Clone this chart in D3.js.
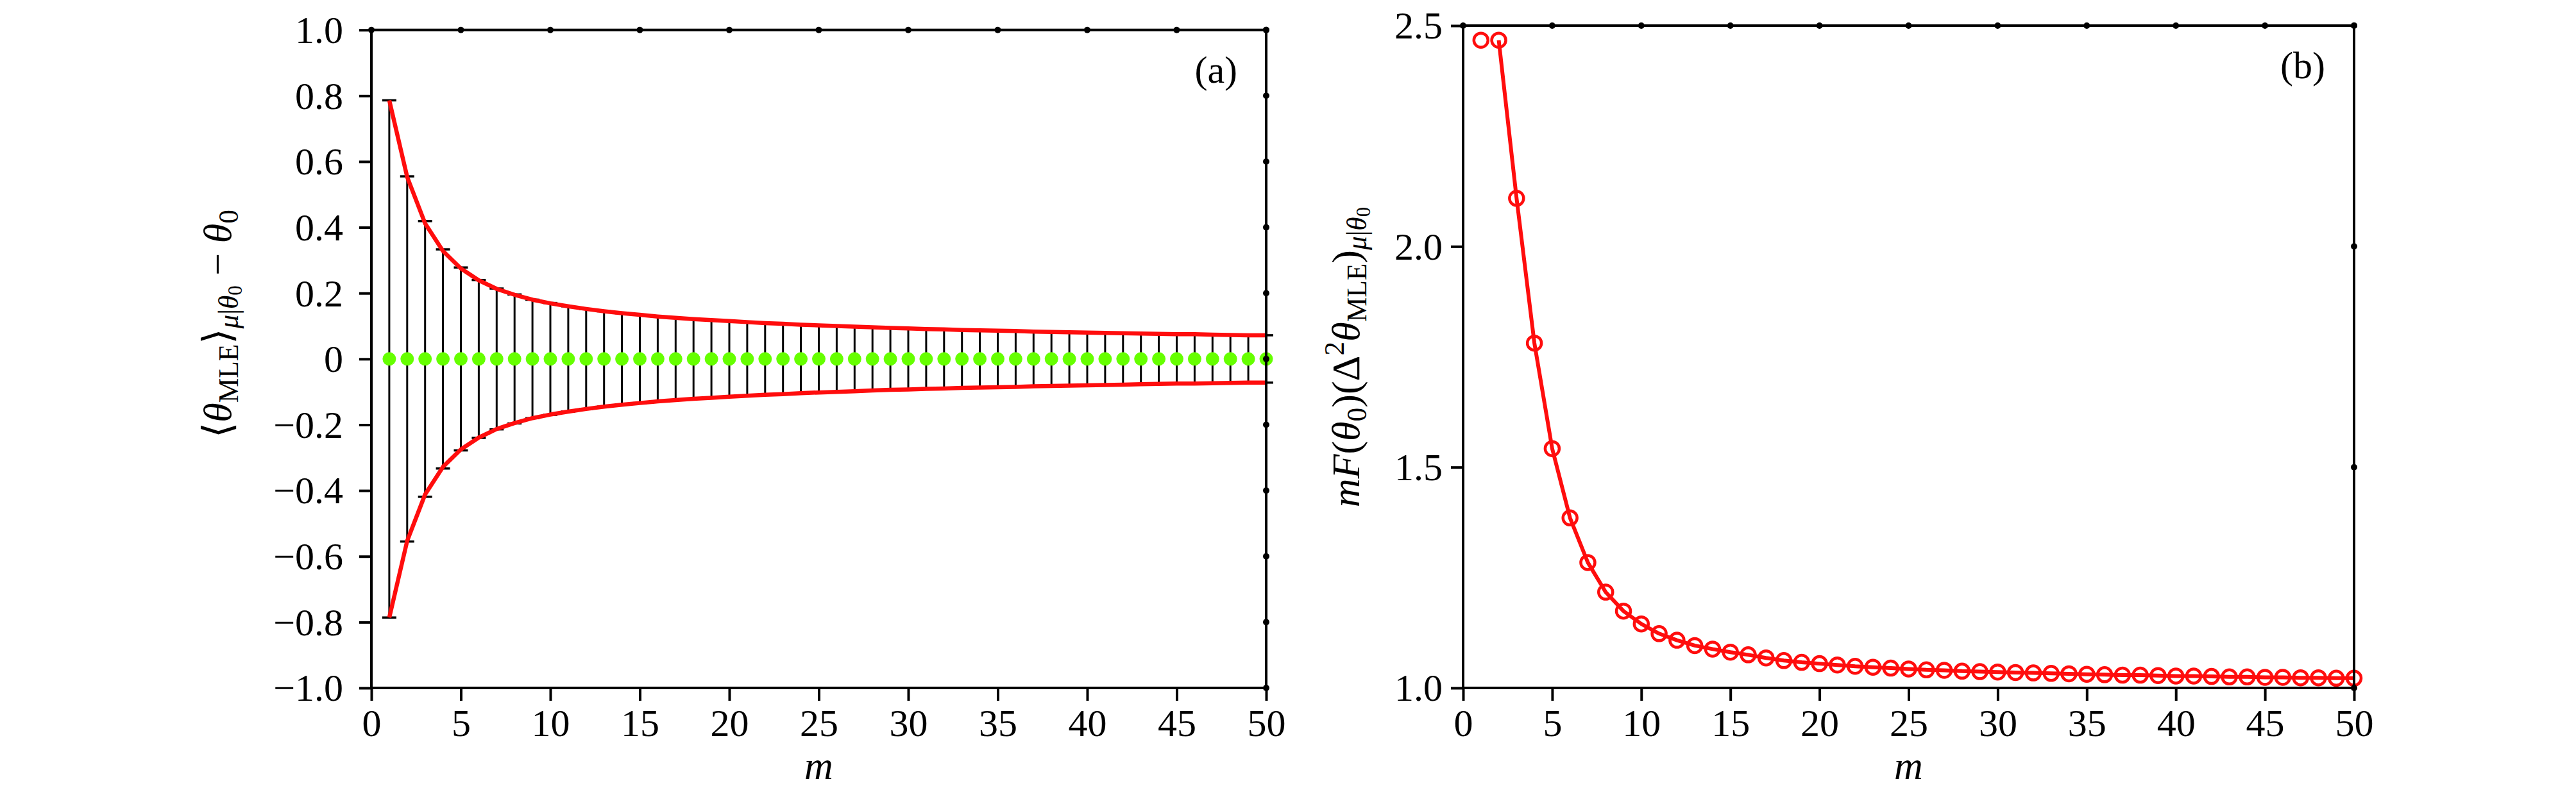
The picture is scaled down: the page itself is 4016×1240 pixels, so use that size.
<!DOCTYPE html>
<html>
<head>
<meta charset="utf-8">
<script src="https://cdn.jsdelivr.net/npm/d3@7"></script>
<style>
  body { margin: 0; background: #fff; }
  svg text { font-family: "Liberation Serif", "DejaVu Serif", serif; }
</style>
</head>
<body>
<div id="chart"></div>
<script>
// number of measurements m
var mValues = [1,2,3,4,5,6,7,8,9,10,11,12,13,14,15,16,17,18,19,20,21,22,23,24,25,
               26,27,28,29,30,31,32,33,34,35,36,37,38,39,40,41,42,43,44,45,46,47,48,49,50];

// (a) mean bias of the MLE (green dots) and the error bar half widths
var biasA = [0,0,0,0,0,0,0,0,0,0,0,0,0,0,0,0,0,0,0,0,0,0,0,0,0,
             0,0,0,0,0,0,0,0,0,0,0,0,0,0,0,0,0,0,0,0,0,0,0,0,0];
var errA = [0.786,0.555,0.419,0.333,0.278,0.240,0.214,0.196,0.180,0.170,
            0.160,0.152,0.145,0.139,0.134,0.129,0.125,0.121,0.118,0.115,
            0.112,0.109,0.107,0.104,0.102,0.100,0.098,0.096,0.094,0.093,
            0.091,0.090,0.088,0.087,0.086,0.085,0.083,0.082,0.081,0.080,
            0.079,0.078,0.077,0.076,0.075,0.075,0.074,0.073,0.072,0.072];
// (a) red envelope curve
var curveA = [0.786,0.553,0.412,0.328,0.275,0.239,0.213,0.195,0.180,0.169,
              0.160,0.152,0.145,0.139,0.134,0.129,0.125,0.121,0.118,0.115,
              0.112,0.109,0.107,0.104,0.102,0.100,0.098,0.096,0.094,0.093,
              0.091,0.090,0.088,0.087,0.086,0.085,0.083,0.082,0.081,0.080,
              0.079,0.078,0.077,0.076,0.075,0.075,0.074,0.073,0.072,0.072];

// (b) normalised variance, circles (the line starts at m = 2)
var varB = [2.467,2.467,2.109,1.781,1.542,1.385,1.284,1.217,1.174,1.145,
            1.123,1.108,1.096,1.088,1.081,1.075,1.068,1.062,1.058,1.055,
            1.052,1.049,1.047,1.045,1.043,1.041,1.040,1.038,1.037,1.036,
            1.035,1.034,1.033,1.032,1.031,1.030,1.029,1.029,1.028,1.027,
            1.027,1.026,1.025,1.025,1.024,1.024,1.023,1.023,1.022,1.022];

// ticks
var xTicks = [0,5,10,15,20,25,30,35,40,45,50];
var aYTicks = [1.0,0.8,0.6,0.4,0.2,0,-0.2,-0.4,-0.6,-0.8,-1.0];
var aYTickLabels = ["1.0","0.8","0.6","0.4","0.2","0","\u22120.2","\u22120.4","\u22120.6","\u22120.8","\u22121.0"];
var bYTicks = [1.0,1.5,2.0,2.5];
var bYTickLabels = ["1.0","1.5","2.0","2.5"];

var W = 4016, H = 1240,
    fontSize = 60,
    red = "#ff0d0d", green = "#66ff00";

var svg = d3.select("#chart").append("svg")
    .attr("width", W)
    .attr("height", H);

// scales
var xA = d3.scaleLinear().domain([0, 50]).range([579, 1974]);
var yA = d3.scaleLinear().domain([-1, 1]).range([1073, 46.7]);
var xB = d3.scaleLinear().domain([0, 50]).range([2281, 3670]);
var yB = d3.scaleLinear().domain([1, 2.5]).range([1073, 40]);

var rowsA = mValues.map(function(m, i) { return {m: m, bias: biasA[i], err: errA[i], curve: curveA[i]}; });
var rowsB = mValues.map(function(m, i) { return {m: m, v: varB[i]}; });

// frame, ticks and tick labels
function drawAxes(x, y, yTicks, yLabels, yPad) {
  var g = svg.append("g");
  var x0 = x.range()[0], x1 = x.range()[1], y0 = y.range()[0], y1 = y.range()[1];

  var ax = g.append("g")
      .attr("transform", "translate(0," + y0 + ")")
      .call(d3.axisBottom(x).tickValues(xTicks).tickSize(20).tickSizeOuter(0).tickFormat(d3.format("d")));
  ax.selectAll("text").attr("y", 75).attr("dy", 0);

  var ay = g.append("g")
      .attr("transform", "translate(" + x0 + ",0)")
      .call(d3.axisLeft(y).tickValues(yTicks).tickSize(19).tickPadding(yPad).tickSizeOuter(0)
        .tickFormat(function(d, i) { return yLabels[i]; }));
  ay.selectAll("text").attr("dy", "0.33em");

  g.selectAll(".domain").remove();
  g.selectAll(".tick line").attr("stroke", "#000").attr("stroke-width", 4);
  g.selectAll(".tick text")
      .attr("fill", "#000")
      .style("font-family", '"Liberation Serif", "DejaVu Serif", serif')
      .style("font-size", fontSize + "px");
  g.selectAll(".tick").attr("font-size", null).attr("font-family", null);

  g.append("rect")
      .attr("x", x0).attr("y", y1)
      .attr("width", x1 - x0).attr("height", y0 - y1)
      .attr("fill", "none").attr("stroke", "#000").attr("stroke-width", 4);

  // small marks on the top and right frame lines
  g.selectAll("circle.top").data(xTicks).enter().append("circle")
      .attr("cx", function(d) { return x(d); }).attr("cy", y1).attr("r", 5).attr("fill", "#000");
  g.selectAll("circle.right").data(yTicks).enter().append("circle")
      .attr("cx", x1).attr("cy", function(d) { return y(d); }).attr("r", 5).attr("fill", "#000");
}

// rotated math label built from tspans
function mathLabel(cx, cy, size, parts) {
  var t = svg.append("text")
      .attr("transform", "translate(" + cx + "," + cy + ") rotate(-90)")
      .attr("text-anchor", "middle")
      .style("font-size", size + "px");
  parts.forEach(function(p) {
    t.append("tspan")
        .text(p[0])
        .style("font-style", p[1] ? "italic" : "normal")
        .attr("font-size", p[2] + "em")
        .attr("baseline-shift", p[3] + "em");
  });
  return t;
}

// ---- panel (a) ----
var gA = svg.append("g");

gA.selectAll("line.bar").data(rowsA).enter().append("line")
    .attr("x1", function(d) { return xA(d.m); }).attr("x2", function(d) { return xA(d.m); })
    .attr("y1", function(d) { return yA(d.bias - d.err); })
    .attr("y2", function(d) { return yA(d.bias + d.err); })
    .attr("stroke", "#000").attr("stroke-width", 3);

[1, -1].forEach(function(s) {
  gA.selectAll("line.cap" + s).data(rowsA).enter().append("line")
      .attr("x1", function(d) { return xA(d.m) - 11; }).attr("x2", function(d) { return xA(d.m) + 11; })
      .attr("y1", function(d) { return yA(d.bias + s * d.err); })
      .attr("y2", function(d) { return yA(d.bias + s * d.err); })
      .attr("stroke", "#000").attr("stroke-width", 3.5);

  gA.append("path")
      .datum(rowsA)
      .attr("fill", "none").attr("stroke", red).attr("stroke-width", 6.5)
      .attr("stroke-linejoin", "round")
      .attr("d", d3.line()
        .x(function(d) { return xA(d.m); })
        .y(function(d) { return yA(s * d.curve); }));
});

gA.selectAll("circle.dot").data(rowsA).enter().append("circle")
    .attr("cx", function(d) { return xA(d.m); })
    .attr("cy", function(d) { return yA(d.bias); })
    .attr("r", 10.5).attr("fill", green);

drawAxes(xA, yA, aYTicks, aYTickLabels, 25);

// ---- panel (b) ----
var gB = svg.append("g");

gB.append("path")
    .datum(rowsB)
    .attr("fill", "none").attr("stroke", red).attr("stroke-width", 6)
    .attr("stroke-linejoin", "round")
    .attr("d", d3.line()
      .defined(function(d) { return d.m >= 2; })
      .x(function(d) { return xB(d.m); })
      .y(function(d) { return yB(d.v); }));

gB.selectAll("circle.pt").data(rowsB).enter().append("circle")
    .attr("cx", function(d) { return xB(d.m); })
    .attr("cy", function(d) { return yB(d.v); })
    .attr("r", 11).attr("fill", "none").attr("stroke", red).attr("stroke-width", 4.5);

drawAxes(xB, yB, bYTicks, bYTickLabels, 13);

// ---- labels ----
[xA, xB].forEach(function(x) {
  svg.append("text")
      .attr("x", (x.range()[0] + x.range()[1]) / 2).attr("y", 1215)
      .attr("text-anchor", "middle")
      .style("font-style", "italic").style("font-size", "62px")
      .text("m");
});

svg.append("text").attr("x", 1929).attr("y", 129).attr("text-anchor", "end")
    .style("font-size", fontSize + "px").text("(a)");
svg.append("text").attr("x", 3625).attr("y", 122).attr("text-anchor", "end")
    .style("font-size", fontSize + "px").text("(b)");

var sub = 0.7, subsub = 0.5;
mathLabel(360, 505, 62, [
  ["\u27E8", 0, 1, 0], ["\u03B8", 1, 1, 0], ["MLE", 0, sub, -0.25],
  ["\u27E9", 0, 1, 0], ["\u03BC", 1, sub, -0.25], ["|", 0, sub, -0.25],
  ["\u03B8", 1, sub, -0.25], ["0", 0, subsub, -0.55],
  [" \u2212 ", 0, 1, 0], ["\u03B8", 1, 1, 0], ["0", 0, sub, -0.25]
]);

mathLabel(2119, 557, 62, [
  ["m", 1, 1, 0], ["F", 1, 1, 0], ["(", 0, 1, 0],
  ["\u03B8", 1, 1, 0], ["0", 0, sub, -0.25], [")", 0, 1, 0],
  ["(", 0, 1, 0], ["\u0394", 0, 1, 0], ["2", 0, sub, 0.55],
  ["\u03B8", 1, 1, 0], ["MLE", 0, sub, -0.25], [")", 0, 1, 0],
  ["\u03BC", 1, sub, -0.25], ["|", 0, sub, -0.25], ["\u03B8", 1, sub, -0.25], ["0", 0, subsub, -0.55]
]);
</script>
</body>
</html>
